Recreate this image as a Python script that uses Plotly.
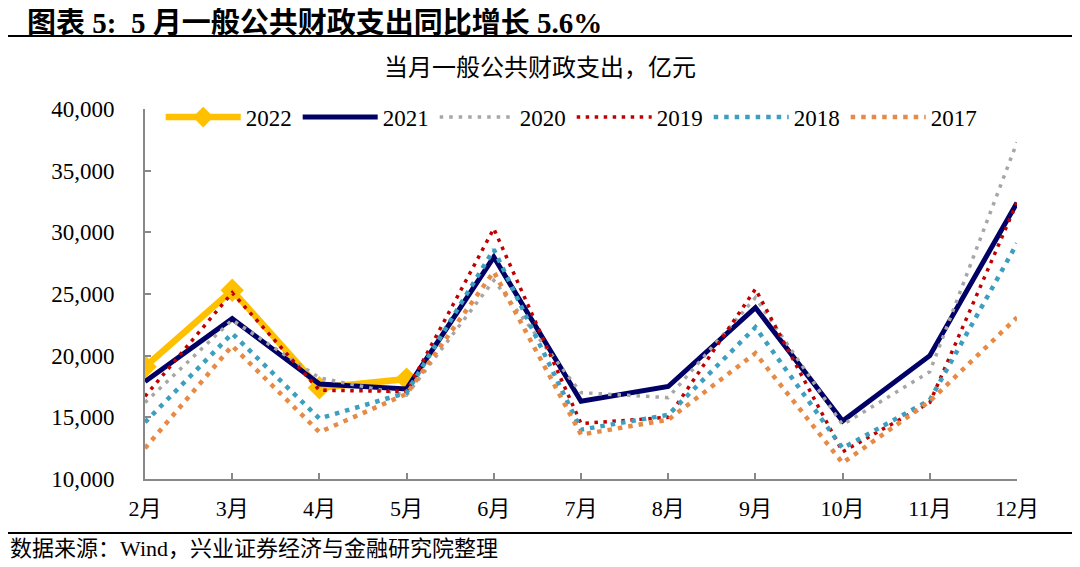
import plotly.graph_objects as go

months = ["2月", "3月", "4月", "5月", "6月", "7月", "8月", "9月", "10月", "11月", "12月"]
y2022 = [19100, 25300, 17400, 18100]
y2021 = [17900, 23000, 17700, 17300, 28000, 16300, 17500, 23900, 14700, 20000, 32400]
y2020 = [16200, 22900, 18200, 16800, 26100, 17000, 16600, 24700, 14400, 18700, 37300]
y2019 = [16700, 25100, 17200, 17100, 30300, 14500, 15000, 25400, 12200, 16200, 32400]
y2018 = [14600, 21800, 14900, 17000, 28600, 14000, 15200, 22300, 12500, 16400, 29100]
y2017 = [12500, 20800, 13800, 16900, 26800, 13600, 14800, 20200, 11300, 16300, 23100]
yticks = [10000, 15000, 20000, 25000, 30000, 35000, 40000]

FONT = "Liberation Serif, Noto Sans CJK SC"

fig = go.Figure()
fig.add_trace(go.Scatter(x=months[:len(y2022)], y=y2022, name="2022", mode="lines+markers",
                         line=dict(color="#FFC000", width=6.5),
                         marker=dict(symbol="diamond", size=18, color="#FFC000")))
fig.add_trace(go.Scatter(x=months, y=y2021, name="2021", mode="lines",
                         line=dict(color="#000066", width=5)))
fig.add_trace(go.Scatter(x=months, y=y2020, name="2020", mode="lines",
                         line=dict(color="#A6A6A6", width=3.5, dash="3.5px,6px")))
fig.add_trace(go.Scatter(x=months, y=y2019, name="2019", mode="lines",
                         line=dict(color="#C00000", width=3.5, dash="3.5px,5.5px")))
fig.add_trace(go.Scatter(x=months, y=y2018, name="2018", mode="lines",
                         line=dict(color="#3C9FBF", width=4.5, dash="4.5px,6px")))
fig.add_trace(go.Scatter(x=months, y=y2017, name="2017", mode="lines",
                         line=dict(color="#E68A45", width=4.5, dash="4.5px,6px")))

fig.update_layout(
    width=1080, height=567,
    margin=dict(l=137, r=71, t=101, b=96),
    paper_bgcolor="white", plot_bgcolor="white",
    font=dict(family=FONT, size=22, color="black"),
    showlegend=True,
    legend=dict(orientation="h", x=0.018, y=0.978, xanchor="left", yanchor="middle",
                entrywidth=47, entrywidthmode="pixels", font=dict(size=23, family=FONT),
                bgcolor="rgba(0,0,0,0)", traceorder="normal", itemwidth=75),
    xaxis=dict(type="category", range=[0, len(months) - 1], showgrid=False,
               showline=True, linecolor="#888888", linewidth=2,
               ticks="inside", ticklen=6, tickcolor="#888888", tickwidth=1.5,
               ticklabelstandoff=9,
               tickfont=dict(size=22, family=FONT), zeroline=False),
    yaxis=dict(range=[10000, 40000], tickvals=yticks, tickformat=",d", showgrid=False,
               showline=True, linecolor="#888888", linewidth=2,
               ticks="inside", ticklen=6, tickcolor="#888888", tickwidth=1.5,
               ticklabelstandoff=24,
               tickfont=dict(size=23, family=FONT), zeroline=False),
)

fig.add_annotation(text="<b>图表 5:  5 月一般公共财政支出同比增长 5.6%</b>".replace("  ", "&nbsp;&nbsp;"),
                   xref="paper", yref="paper",
                   x=-0.1376, y=1.232, xanchor="left", yanchor="middle", showarrow=False,
                   font=dict(size=29, family=FONT, color="black"))
fig.add_annotation(text="当月一般公共财政支出，亿元", xref="paper", yref="paper",
                   x=0.453, y=1.111, xanchor="center", yanchor="middle", showarrow=False,
                   font=dict(size=24, family=FONT, color="black"))
fig.add_annotation(text="数据来源：Wind，兴业证券经济与金融研究院整理", xref="paper", yref="paper",
                   x=-0.157, y=-0.189, xanchor="left", yanchor="middle", showarrow=False,
                   font=dict(size=22, family=FONT, color="black"))
fig.add_shape(type="line", xref="paper", yref="paper", x0=-0.158, x1=1.09, y0=1.197, y1=1.197,
              line=dict(color="black", width=2))
fig.add_shape(type="line", xref="paper", yref="paper", x0=-0.158, x1=1.09, y0=-0.146, y1=-0.146,
              line=dict(color="black", width=2))

fig.write_html("out.html")
